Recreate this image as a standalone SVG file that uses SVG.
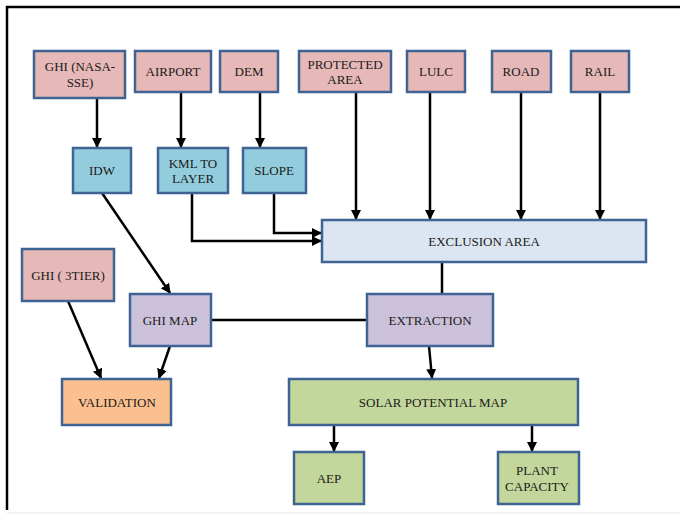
<svg xmlns="http://www.w3.org/2000/svg" width="680" height="515" viewBox="0 0 680 515">
<style>
.b{stroke:#3f6393;stroke-width:2.5}
.pk{fill:#e6b8b7}.bl{fill:#93cddd}.lb{fill:#dce6f2}.lv{fill:#ccc1da}.or{fill:#fac090}.gr{fill:#c3d69b}
text{font-family:"Liberation Serif","Times New Roman",serif;font-size:13px;fill:#1a1a1a;text-anchor:middle}
.c{stroke:#000;stroke-width:2.5;fill:none}
</style>
<defs>
<marker id="a" viewBox="0 0 10 10" refX="9" refY="5" markerWidth="4" markerHeight="4" orient="auto" markerUnits="strokeWidth">
<path d="M0,0 L10,5 L0,10 z" fill="#000"/>
</marker>
</defs>
<rect x="0" y="0" width="680" height="515" fill="#fff"/>
<path d="M7,510 V7 H680" stroke="#000" stroke-width="2.5" fill="none"/>
<line x1="7" y1="513" x2="680" y2="513" stroke="#e6e6e6" stroke-width="1"/>
<g id="connectors">
<line class="c" x1="97" y1="98" x2="97" y2="147" marker-end="url(#a)"/>
<line class="c" x1="181" y1="92" x2="181" y2="147" marker-end="url(#a)"/>
<line class="c" x1="260" y1="92" x2="260" y2="147" marker-end="url(#a)"/>
<line class="c" x1="356" y1="92" x2="356" y2="219" marker-end="url(#a)"/>
<line class="c" x1="430" y1="92" x2="430" y2="219" marker-end="url(#a)"/>
<line class="c" x1="521" y1="92" x2="521" y2="219" marker-end="url(#a)"/>
<line class="c" x1="600" y1="92" x2="600" y2="219" marker-end="url(#a)"/>
<line class="c" x1="102" y1="193" x2="170" y2="293" marker-end="url(#a)"/>
<polyline class="c" points="192,193 192,241 321,241" marker-end="url(#a)"/>
<polyline class="c" points="274,193 274,233 321,233" marker-end="url(#a)"/>
<line class="c" x1="68" y1="301" x2="101" y2="378" marker-end="url(#a)"/>
<line class="c" x1="170" y1="346" x2="159" y2="378" marker-end="url(#a)"/>
<line class="c" x1="211" y1="320" x2="367" y2="320"/>
<line class="c" x1="442" y1="262" x2="442" y2="294"/>
<line class="c" x1="429" y1="346" x2="432" y2="378" marker-end="url(#a)"/>
<line class="c" x1="334" y1="425" x2="334" y2="451" marker-end="url(#a)"/>
<line class="c" x1="532" y1="425" x2="532" y2="451" marker-end="url(#a)"/>
</g>
<g id="ghi-nasa"><rect class="b pk" x="34" y="51" width="91" height="47"/><text x="80" y="71">GHI (NASA-</text><text x="80" y="87">SSE)</text></g>
<g id="airport"><rect class="b pk" x="135" y="51" width="76" height="41"/><text x="173" y="76">AIRPORT</text></g>
<g id="dem"><rect class="b pk" x="220" y="51" width="58" height="41"/><text x="249" y="76">DEM</text></g>
<g id="protected"><rect class="b pk" x="299" y="51" width="92" height="41"/><text x="345" y="69">PROTECTED</text><text x="345" y="84">AREA</text></g>
<g id="lulc"><rect class="b pk" x="407" y="51" width="58" height="41"/><text x="436" y="76">LULC</text></g>
<g id="road"><rect class="b pk" x="492" y="51" width="59" height="41"/><text x="521" y="76">ROAD</text></g>
<g id="rail"><rect class="b pk" x="571" y="51" width="58" height="41"/><text x="600" y="76">RAIL</text></g>
<g id="idw"><rect class="b bl" x="73" y="148" width="58" height="45"/><text x="102" y="175">IDW</text></g>
<g id="kml"><rect class="b bl" x="158" y="148" width="70" height="45"/><text x="193" y="168">KML TO</text><text x="193" y="183">LAYER</text></g>
<g id="slope"><rect class="b bl" x="243" y="148" width="63" height="45"/><text x="274" y="175">SLOPE</text></g>
<g id="exclusion"><rect class="b lb" x="322" y="220" width="324" height="42"/><text x="484" y="246">EXCLUSION AREA</text></g>
<g id="ghi-3tier"><rect class="b pk" x="22" y="249" width="92" height="52"/><text x="68" y="280">GHI ( 3TIER)</text></g>
<g id="ghi-map"><rect class="b lv" x="130" y="294" width="81" height="52"/><text x="170" y="325">GHI MAP</text></g>
<g id="extraction"><rect class="b lv" x="367" y="294" width="126" height="52"/><text x="430" y="325">EXTRACTION</text></g>
<g id="validation"><rect class="b or" x="62" y="379" width="109" height="46"/><text x="117" y="407">VALIDATION</text></g>
<g id="solar"><rect class="b gr" x="289" y="379" width="289" height="46"/><text x="433" y="407">SOLAR POTENTIAL MAP</text></g>
<g id="aep"><rect class="b gr" x="294" y="452" width="70" height="52"/><text x="329" y="483">AEP</text></g>
<g id="plant"><rect class="b gr" x="498" y="452" width="81" height="52"/><text x="537" y="475">PLANT</text><text x="537" y="491">CAPACITY</text></g>
</svg>
